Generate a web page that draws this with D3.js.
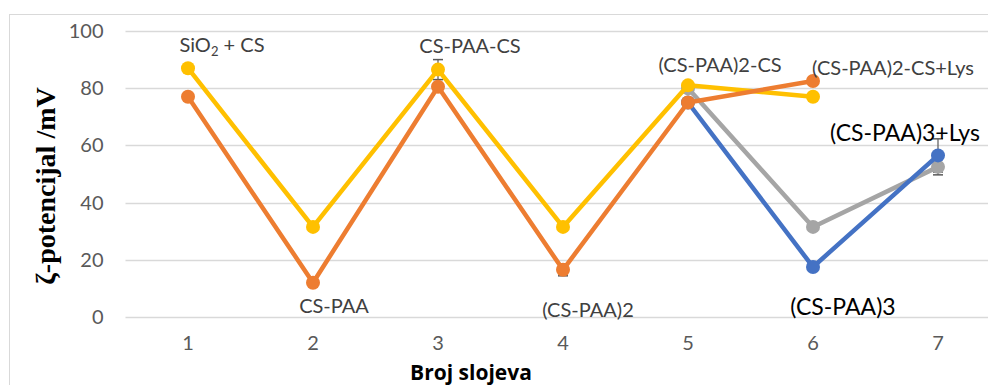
<!DOCTYPE html>
<html>
<head>
<meta charset="utf-8">
<script src="https://cdn.jsdelivr.net/npm/d3@7"></script>
<style>
  html, body { margin: 0; padding: 0; background: #fff; }
  svg { display: block; }
</style>
</head>
<body>
<svg id="chart" width="988" height="385"></svg>
<script>
// Layer count on the x axis
const categories = [1, 2, 3, 4, 5, 6, 7];
const yTicks = [0, 20, 40, 60, 80, 100];

// Zeta potential (mV) per series; null where a series has no layer
const seriesYellow = [87, 31.5, 86.5, 31.5, 81, 77, null];
const seriesOrange = [77, 12, 80.5, 16.5, 75, 82.5, null];
const seriesGray   = [null, null, null, null, 80, 31.5, 52.5];
const seriesBlue   = [null, null, null, null, 75, 17.5, 56.5];

// Standard deviations (only the visible ones)
const errYellow = [0, 0, 3.5, 0, 0, 0, null];
const errOrange = [0, 0, 0, 2.1, 0, 0, null];
const errGray   = [null, null, null, null, 0, 0, 2.8];
const errBlue   = [null, null, null, null, 0, 0, 5.8];

// Layer names written beside the points
const layerNames = ["SiO2 + CS", "CS-PAA", "CS-PAA-CS", "(CS-PAA)2", "(CS-PAA)2-CS", "(CS-PAA)2-CS+Lys", "(CS-PAA)3", "(CS-PAA)3+Lys"];

const svg = d3.select("#chart");
const font = "Lato, 'Open Sans', sans-serif";

const plot = { left: 125.5, right: 1000.5, top: 31, bottom: 317 };

const x = d3.scaleBand().domain(categories).range([plot.left, plot.right]);
const cx = c => x(c) + x.bandwidth() / 2;
const y = d3.scaleLinear().domain([0, 100]).range([plot.bottom, plot.top]);

// chart frame
svg.append("rect")
  .attr("x", 9.5).attr("y", 14.5).attr("width", 1100).attr("height", 500)
  .attr("fill", "none").attr("stroke", "#d9d9d9").attr("stroke-width", 1);

// gridlines
svg.append("g")
  .selectAll("line").data(yTicks).join("line")
  .attr("x1", plot.left).attr("x2", plot.right)
  .attr("y1", d => Math.round(y(d)) + 0.5).attr("y2", d => Math.round(y(d)) + 0.5)
  .attr("stroke", "#d9d9d9").attr("stroke-width", 1.5);

// y axis labels
const yAxis = d3.axisLeft(y).tickValues(yTicks).tickSize(0).tickPadding(0);
const gy = svg.append("g").attr("transform", `translate(${plot.left - 22},0)`).call(yAxis);
gy.select(".domain").remove();
gy.selectAll("text").attr("font-family", font).attr("font-size", 20).attr("fill", "#595959");

// x axis labels
const xAxis = d3.axisBottom(x).tickSize(0).tickPadding(0);
const gx = svg.append("g").attr("transform", `translate(0,${plot.bottom + 19})`).call(xAxis);
gx.select(".domain").remove();
gx.selectAll("text").attr("font-family", font).attr("font-size", 20).attr("fill", "#595959");

// axis titles
svg.append("text")
  .attr("x", 471).attr("y", 380)
  .attr("text-anchor", "middle")
  .attr("font-family", "'Open Sans', Lato, sans-serif").attr("font-weight", "bold").attr("font-size", 21)
  .attr("fill", "#000")
  .text("Broj slojeva");

svg.append("text")
  .attr("transform", "translate(55,186) rotate(-90)")
  .attr("text-anchor", "middle")
  .attr("font-family", "'Liberation Serif', 'DejaVu Serif', serif").attr("font-weight", "bold").attr("font-size", 28)
  .attr("fill", "#000")
  .text("ζ-potencijal /mV");

const series = [
  { values: seriesGray,   errs: errGray,   color: "#A5A5A5" },
  { values: seriesBlue,   errs: errBlue,   color: "#4472C4" },
  { values: seriesYellow, errs: errYellow, color: "#FFC000" },
  { values: seriesOrange, errs: errOrange, color: "#ED7D31" }
];

const pts = s => categories.map((c, i) => ({ c, v: s.values[i], e: s.errs[i] })).filter(d => d.v != null);

// error bars
const eg = svg.append("g");
series.forEach(s => {
  pts(s).filter(d => d.e > 0).forEach(d => {
    const xx = cx(d.c);
    const y1 = y(d.v + d.e), y2 = y(d.v - d.e);
    eg.append("line").attr("x1", xx).attr("x2", xx).attr("y1", y1).attr("y2", y2)
      .attr("stroke", "#595959").attr("stroke-width", 1.2);
    [y1, y2].forEach(yy => eg.append("line")
      .attr("x1", xx - 5).attr("x2", xx + 5).attr("y1", yy).attr("y2", yy)
      .attr("stroke", "#595959").attr("stroke-width", 1.5));
  });
});

const line = d3.line().x(d => cx(d.c)).y(d => y(d.v));

series.forEach(s => {
  const g = svg.append("g");
  g.append("path").datum(pts(s)).attr("d", line)
    .attr("fill", "none").attr("stroke", s.color).attr("stroke-width", 4.5)
    .attr("stroke-linejoin", "round").attr("stroke-linecap", "round");
  g.selectAll("circle").data(pts(s)).join("circle")
    .attr("cx", d => cx(d.c)).attr("cy", d => y(d.v)).attr("r", 7)
    .attr("fill", s.color);
});

// layer name annotations
const ann = svg.append("g").attr("font-family", font);
function label(txt, xx, yy, size, color, anchor) {
  return ann.append("text").attr("x", xx).attr("y", yy)
    .attr("font-size", size).attr("fill", color).attr("text-anchor", anchor || "middle")
    .text(txt);
}
// SiO2 + CS with subscript
const t0 = ann.append("text").attr("x", cx(1) + 34).attr("y", 52)
  .attr("font-size", 20).attr("fill", "#404040").attr("text-anchor", "middle");
t0.append("tspan").text("SiO");
t0.append("tspan").attr("font-size", 13).attr("dy", 4).text("2");
t0.append("tspan").attr("dy", -4).text(" + CS");

label(layerNames[1], cx(2) + 21, 313, 20, "#404040");
label(layerNames[2], cx(3) + 32, 53, 20, "#404040");
label(layerNames[3], cx(4) + 25, 317, 20, "#404040");
label(layerNames[4], cx(5) + 32, 72, 20, "#404040");
label(layerNames[5], cx(6) - 1, 75, 20, "#404040", "start");
label(layerNames[6], cx(6) + 30, 315, 23, "#000");
label(layerNames[7], cx(7) - 33, 141, 23, "#000");
</script>
</body>
</html>
